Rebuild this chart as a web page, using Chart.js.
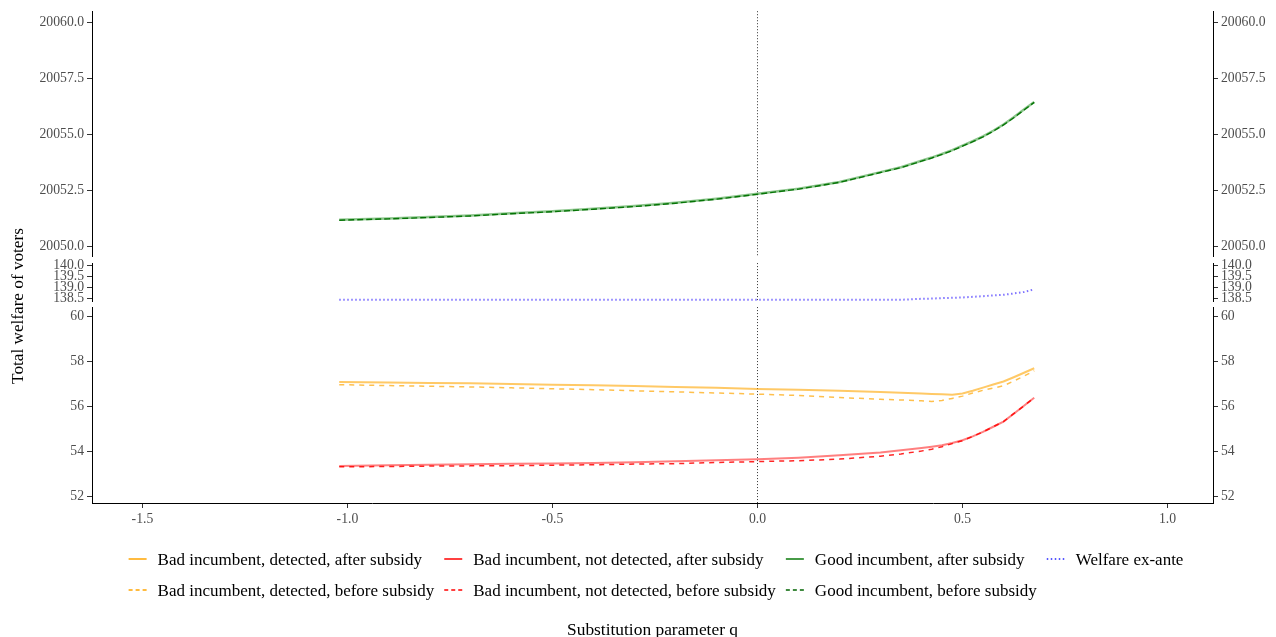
<!DOCTYPE html>
<html>
<head>
<meta charset="utf-8">
<title>Total welfare of voters</title>
<script src="https://cdn.jsdelivr.net/npm/chart.js@4.4.1/dist/chart.umd.min.js"></script>
<style>
  html, body { margin: 0; padding: 0; background: #ffffff; }
  canvas { display: block; }
</style>
</head>
<body>
<canvas id="chart" width="1276" height="637"></canvas>
<script>
// Substitution parameter grid
const qValues = [-1.02, -0.9, -0.8, -0.7, -0.6, -0.5, -0.4, -0.3, -0.2, -0.1, 0, 0.1, 0.2, 0.3, 0.35,
                 0.4, 0.425, 0.45, 0.475, 0.5, 0.525, 0.55, 0.575, 0.6, 0.625, 0.65, 0.675];

// Good incumbent (upper panel)
const goodAfter = [20051.18, 20051.24, 20051.30, 20051.37, 20051.47, 20051.56, 20051.67, 20051.79, 20051.94, 20052.12,
                   20052.34, 20052.57, 20052.87, 20053.31, 20053.53, 20053.82, 20053.96, 20054.12, 20054.29, 20054.49,
                   20054.69, 20054.91, 20055.16, 20055.44, 20055.76, 20056.11, 20056.45];
const goodBefore = [20051.16, 20051.22, 20051.28, 20051.35, 20051.45, 20051.54, 20051.65, 20051.77, 20051.92, 20052.10,
                    20052.32, 20052.55, 20052.85, 20053.29, 20053.51, 20053.80, 20053.94, 20054.10, 20054.27, 20054.47,
                    20054.67, 20054.89, 20055.14, 20055.42, 20055.74, 20056.09, 20056.43];

// Welfare ex-ante (middle panel)
const welfareExAnte = [138.455, 138.455, 138.455, 138.455, 138.455, 138.455, 138.455, 138.455, 138.455, 138.455,
                       138.455, 138.455, 138.455, 138.455, 138.455, 138.50, 138.51, 138.53, 138.545, 138.56,
                       138.59, 138.62, 138.65, 138.68, 138.74, 138.81, 138.93];

// Bad incumbent (lower panel)
const badDetectedAfter = [57.07, 57.05, 57.03, 57.01, 56.98, 56.95, 56.92, 56.89, 56.85, 56.81,
                          56.76, 56.72, 56.68, 56.63, 56.59, 56.56, 56.54, 56.52, 56.50, 56.56,
                          56.68, 56.82, 56.96, 57.09, 57.28, 57.48, 57.68];
const badDetectedBefore = [56.95, 56.91, 56.88, 56.85, 56.81, 56.77, 56.73, 56.68, 56.63, 56.58,
                           56.53, 56.47, 56.38, 56.30, 56.27, 56.23, 56.20, 56.25, 56.34, 56.44,
                           56.58, 56.70, 56.80, 56.90, 57.11, 57.33, 57.57];
const badHiddenAfter = [53.33, 53.37, 53.39, 53.41, 53.43, 53.45, 53.47, 53.50, 53.54, 53.59,
                        53.63, 53.70, 53.81, 53.93, 54.03, 54.13, 54.19, 54.26, 54.36, 54.48,
                        54.65, 54.85, 55.08, 55.31, 55.66, 56.01, 56.37];
const badHiddenBefore = [53.30, 53.31, 53.33, 53.34, 53.35, 53.37, 53.39, 53.42, 53.44, 53.49,
                         53.53, 53.57, 53.64, 53.77, 53.87, 54.00, 54.08, 54.19, 54.33, 54.46,
                         54.65, 54.85, 55.08, 55.31, 55.66, 56.01, 56.37];

// Tick labels
const xTicks = [-1.5, -1.0, -0.5, 0.0, 0.5, 1.0];
const topTicks = [20050.0, 20052.5, 20055.0, 20057.5, 20060.0];
const midTicks = [138.5, 139.0, 139.5, 140.0];
const lowTicks = [52, 54, 56, 58, 60];

const referenceQ = 0;

const serif = "'Liberation Serif', 'Times New Roman', serif";
const tickGrey = '#4d4d4d';
Chart.defaults.font.family = serif;

function points(values) {
  return qValues.map((q, i) => ({ x: q, y: values[i] }));
}

function fixedTicks(list) {
  return scale => { scale.ticks = list.map(v => ({ value: v })); };
}

// Panel y axes, stacked on the left and mirrored on the right
function panelAxis(side, list, min, max, weight, order, digits) {
  return {
    type: 'linear', position: side, stack: side, stackWeight: weight, weight: order,
    min: min, max: max,
    afterBuildTicks: fixedTicks(list),
    afterFit: s => { s.width = side === 'left' ? 92 : 63; },
    border: { display: true, color: '#000000', width: 1 },
    grid: { display: true, drawOnChartArea: false, drawTicks: true, tickLength: 5, tickColor: '#333333' },
    ticks: {
      autoSkip: false, padding: 3, color: tickGrey,
      font: { size: 13.7, family: serif },
      callback: v => Number(v).toFixed(digits)
    }
  };
}
function spacerAxis(side, weight, order) {
  return {
    type: 'linear', position: side, stack: side, stackWeight: weight, weight: order,
    min: 0, max: 1,
    afterFit: s => { s.width = side === 'left' ? 92 : 63; },
    border: { display: false },
    grid: { display: false },
    ticks: { display: false }
  };
}

const datasets = [
  { label: 'Bad incumbent, detected, after subsidy', data: points(badDetectedAfter), yAxisID: 'yLow',
    borderColor: 'rgba(255,165,0,0.6)', keyColor: '#ffa500', borderWidth: 2, borderDash: [] },
  { label: 'Bad incumbent, detected, before subsidy', data: points(badDetectedBefore), yAxisID: 'yLow',
    borderColor: 'rgba(255,165,0,0.7)', keyColor: '#ffa500', borderWidth: 1.5, borderDash: [5, 5] },
  { label: 'Bad incumbent, not detected, after subsidy', data: points(badHiddenAfter), yAxisID: 'yLow',
    borderColor: 'rgba(255,0,0,0.5)', keyColor: '#ff0000', borderWidth: 2, borderDash: [] },
  { label: 'Bad incumbent, not detected, before subsidy', data: points(badHiddenBefore), yAxisID: 'yLow',
    borderColor: 'rgba(255,0,0,0.85)', keyColor: '#ff0000', borderWidth: 1.5, borderDash: [5, 5] },
  { label: 'Good incumbent, after subsidy', data: points(goodAfter), yAxisID: 'yTop',
    borderColor: 'rgba(0,128,0,0.45)', keyColor: '#0a7a0a', borderWidth: 2.5, borderDash: [] },
  { label: 'Good incumbent, before subsidy', data: points(goodBefore), yAxisID: 'yTop',
    borderColor: '#0b6b0b', keyColor: '#006400', borderWidth: 1.4, borderDash: [6, 3] },
  { label: 'Welfare ex-ante', data: points(welfareExAnte), yAxisID: 'yMid',
    borderColor: 'rgba(40,20,255,0.6)', keyColor: '#2020ff', borderWidth: 2, borderDash: [1.5, 2.5] }
];
datasets.forEach(d => { d.pointRadius = 0; d.fill = false; d.tension = 0; });

// Dotted reference line at q = 0 through every panel
const referenceLine = {
  id: 'referenceLine',
  beforeDatasetsDraw(chart) {
    const ctx = chart.ctx;
    const x = Math.round(chart.scales.x.getPixelForValue(referenceQ)) + 0.5;
    ctx.save();
    ctx.strokeStyle = '#333333';
    ctx.lineWidth = 1;
    ctx.setLineDash([1, 2]);
    ['yTop', 'yMid', 'yLow'].forEach(id => {
      const s = chart.scales[id];
      ctx.beginPath();
      ctx.moveTo(x, s.top);
      ctx.lineTo(x, s.bottom);
      ctx.stroke();
    });
    ctx.restore();
  }
};

// Shared y title and a two-row legend filled column by column
const annotations = {
  id: 'annotations',
  afterDraw(chart, args, opts) {
    const ctx = chart.ctx;
    ctx.save();
    ctx.fillStyle = '#000000';
    ctx.textBaseline = 'middle';

    ctx.save();
    ctx.font = opts.titleFont;
    ctx.translate(opts.yTitleX, opts.yTitleY);
    ctx.rotate(-Math.PI / 2);
    ctx.textAlign = 'center';
    ctx.fillText(opts.yTitle, 0, 0);
    ctx.restore();

    ctx.font = opts.font;
    const items = chart.data.datasets;
    const rows = 2;
    const cols = Math.ceil(items.length / rows);
    const widths = [];
    for (let c = 0; c < cols; c++) {
      let w = 0;
      for (let r = 0; r < rows; r++) {
        const d = items[c * rows + r];
        if (d) w = Math.max(w, ctx.measureText(d.label).width);
      }
      widths.push(opts.keyWidth + opts.keyGap + w);
    }
    const total = widths.reduce((a, b) => a + b, 0) + opts.colGap * (cols - 1);
    let x0 = opts.centerX - total / 2;
    ctx.textAlign = 'left';
    for (let c = 0; c < cols; c++) {
      for (let r = 0; r < rows; r++) {
        const d = items[c * rows + r];
        if (!d) continue;
        const y = opts.rowY[r];
        const keyY = Math.round(y - 2);
        ctx.save();
        ctx.strokeStyle = d.keyColor;
        ctx.lineWidth = 1.5;
        ctx.setLineDash(d.borderDash.length ? (d.borderDash[0] < 2 ? [1.5, 2.5] : [4, 3]) : []);
        ctx.beginPath();
        ctx.moveTo(x0, keyY);
        ctx.lineTo(x0 + opts.keyWidth, keyY);
        ctx.stroke();
        ctx.restore();
        ctx.fillText(d.label, x0 + opts.keyWidth + opts.keyGap, y);
      }
      x0 += widths[c] + opts.colGap;
    }
    ctx.restore();
  }
};

new Chart(document.getElementById('chart'), {
  type: 'line',
  data: { datasets: datasets },
  plugins: [referenceLine, annotations],
  options: {
    responsive: false,
    animation: false,
    devicePixelRatio: 1,
    layout: { padding: { top: 11, left: 0, right: 0, bottom: 0 } },
    plugins: {
      legend: { display: false },
      tooltip: { enabled: false },
      annotations: {
        font: "17px 'Liberation Serif', serif",
        titleFont: "17.2px 'Liberation Serif', serif",
        yTitle: 'Total welfare of voters', yTitleX: 18, yTitleY: 306,
        centerX: 656, rowY: [561, 592], keyWidth: 18, keyGap: 11, colGap: 10
      }
    },
    scales: {
      x: {
        type: 'linear', position: 'bottom', min: -1.623, max: 1.111,
        afterBuildTicks: fixedTicks(xTicks),
        afterFit: s => { s.height = 134; },
        border: { display: true, color: '#000000', width: 1 },
        grid: { display: true, drawOnChartArea: false, drawTicks: true, tickLength: 5, tickColor: '#333333' },
        ticks: { autoSkip: false, padding: 3, color: tickGrey, maxRotation: 0,
                 font: { size: 13.7, family: serif }, callback: v => Number(v).toFixed(1) },
        title: { display: true, text: 'Substitution parameter q', color: '#000000',
                 padding: { top: 0, bottom: -2 }, font: { size: 17.4, family: serif, lineHeight: 1 } }
      },
      yLow: panelAxis('left', lowTicks, 51.689, 60.4, 196, 1, 0),
      gapL2: spacerAxis('left', 6, 2),
      yMid: panelAxis('left', midTicks, 138.395, 140.123, 38, 3, 1),
      gapL1: spacerAxis('left', 7, 4),
      yTop: panelAxis('left', topTicks, 20049.553, 20060.505, 245, 5, 1),
      yTopR: panelAxis('right', topTicks, 20049.553, 20060.505, 245, 1, 1),
      gapR1: spacerAxis('right', 7, 2),
      yMidR: panelAxis('right', midTicks, 138.395, 140.123, 38, 3, 1),
      gapR2: spacerAxis('right', 6, 4),
      yLowR: panelAxis('right', lowTicks, 51.689, 60.4, 196, 5, 0)
    }
  }
});
</script>
</body>
</html>
